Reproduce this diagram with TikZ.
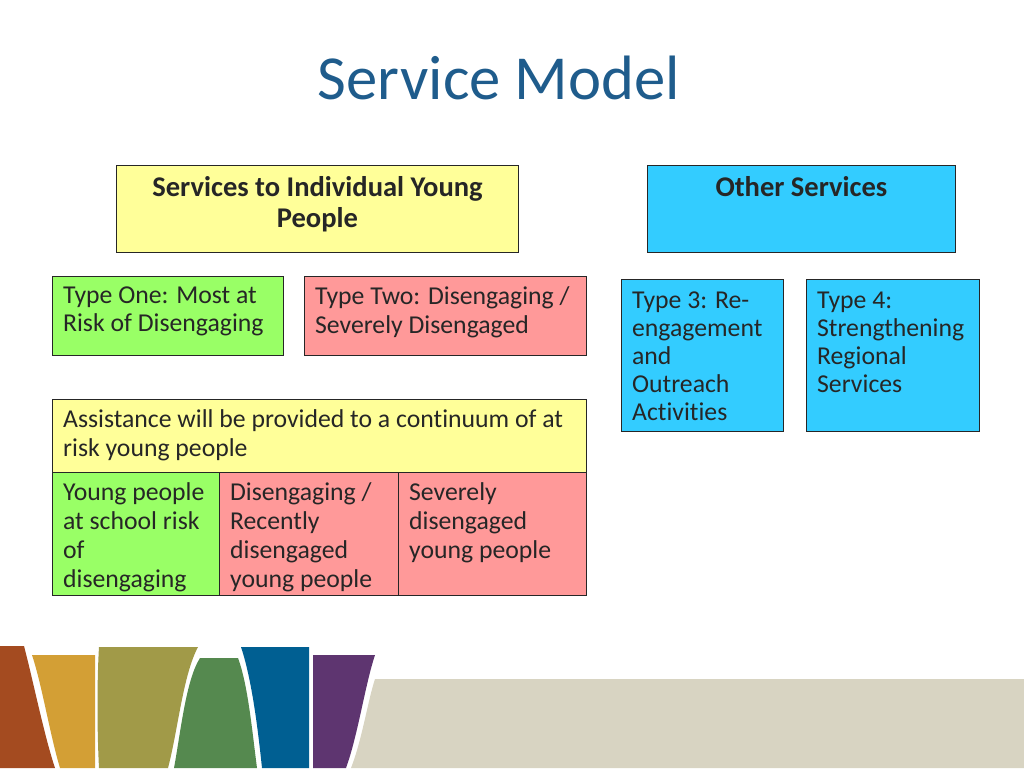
\documentclass[tikz,border=0pt]{standalone}
\usepackage{fontspec}
\setmainfont{Carlito}[Ligatures=NoCommon]
\usepackage{xcolor}
\definecolor{titleblue}{HTML}{1F5C8C}
\definecolor{cellyellow}{HTML}{FFFF99}
\definecolor{cellgreen}{HTML}{99FF66}
\definecolor{cellpink}{HTML}{FF9999}
\definecolor{cellblue}{HTML}{33CCFF}
\definecolor{bandbrown}{HTML}{A44B20}
\definecolor{bandorange}{HTML}{D39F35}
\definecolor{bandolive}{HTML}{A19A48}
\definecolor{bandgreen}{HTML}{55894F}
\definecolor{bandblue}{HTML}{005F92}
\definecolor{bandpurple}{HTML}{5E3570}
\definecolor{bandbeige}{HTML}{D8D4C2}
% [top gap in pt], width and height in px of the reference, text
\newcommand{\celltext}[4][7.4]{\begin{minipage}[t][\dimexpr#3pt*3/4\relax][t]{\dimexpr#2pt*3/4\relax}\raggedright\setlength{\parindent}{0pt}\vspace{#1pt}\leftskip=8pt\relax #4\end{minipage}}
\newcommand{\headtext}[4][8]{\begin{minipage}[t][\dimexpr#3pt*3/4\relax][t]{\dimexpr#2pt*3/4\relax}\centering\vspace{#1pt}#4\end{minipage}}
\tikzstyle{cell}=[rectangle,draw=black!85,line width=0.7pt,inner sep=0pt,anchor=north west,text=black!85,font=\fontsize{19.3}{21.7}\selectfont]
\tikzstyle{headcell}=[cell,font=\fontsize{21.4}{23.2}\selectfont\bfseries]
\begin{document}
\begin{tikzpicture}[x=0.75pt,y=-0.75pt]
	\useasboundingbox (0,0) rectangle (1024,768);
	\node at (499,78) [text=titleblue,font=\fontsize{47}{56}\selectfont] (title) {Service Model};

	\node at (116,165) [headcell,fill=cellyellow] (indiv) {\headtext{402}{87}{Services to Individual Young\\People}};
	\node at (647,165) [headcell,fill=cellblue] (other) {\headtext{308}{87}{Other Services}};

	\node at (52,276) [cell,fill=cellgreen] (one) {\celltext{231}{79}{Type One: Most at\\Risk of Disengaging}};
	\node at (304,276) [cell,fill=cellpink] (two) {\celltext{282}{79}{Type Two: Disengaging /\\Severely Disengaged}};
	\node at (621,279) [cell,fill=cellblue] (three) {\celltext[9.5]{162}{152}{\baselineskip=21pt Type 3: Re-\\engagement\\and\\Outreach\\Activities}};
	\node at (806,279) [cell,fill=cellblue] (four) {\celltext[9.5]{173}{152}{\baselineskip=21pt Type 4:\\Strengthening\\Regional\\Services}};

	\node at (52,399) [cell,fill=cellyellow] (assist) {\celltext{534}{73}{Assistance will be provided to a continuum of at\\risk young people}};
	\node at (52,472) [cell,fill=cellgreen] (school) {\celltext{167}{123}{Young people\\at school risk\\of\\disengaging}};
	\node at (219,472) [cell,fill=cellpink] (recent) {\celltext{179}{123}{Disengaging /\\Recently\\disengaged\\young people}};
	\node at (398,472) [cell,fill=cellpink] (severe) {\celltext{188}{123}{Severely\\disengaged\\young people}};

	% bands along the bottom
	\fill [bandbeige] (375,679) -- (1024,679) -- (1024,768) -- (351,768) .. controls (362,740) and (368,700) .. (375,679) -- cycle;
	\fill [bandbrown] (0,646) -- (24,646) .. controls (33,680) and (44,735) .. (55,768) -- (0,768) -- cycle;
	\fill [bandorange] (32,655) -- (95,655) -- (95,768) -- (60,768) .. controls (50,735) and (42,685) .. (32,655) -- cycle;
	\fill [bandolive] (99,647) -- (198,647) .. controls (183,675) and (178,730) .. (168,768) -- (99,768) .. controls (97,730) and (97,680) .. (99,647) -- cycle;
	\fill [bandgreen] (200,658) -- (238,658) .. controls (248,685) and (252,730) .. (257,768) -- (174,768) .. controls (181,730) and (186,680) .. (200,658) -- cycle;
	\fill [bandblue] (241,647) -- (309,647) -- (309,768) -- (262,768) .. controls (258,730) and (252,680) .. (241,647) -- cycle;
	\fill [bandpurple] (313,655) -- (375,655) .. controls (365,685) and (358,735) .. (346,768) -- (313,768) -- cycle;
\end{tikzpicture}
\end{document}
